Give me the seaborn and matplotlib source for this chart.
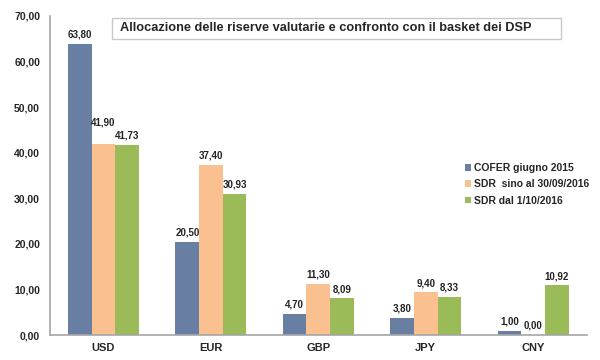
import pandas as pd
import matplotlib
matplotlib.use("Agg")
import matplotlib.pyplot as plt
import matplotlib.patches as mpatches
import seaborn as sns

# dati
valute = ["USD", "EUR", "GBP", "JPY", "CNY"]
serie = ["COFER giugno 2015", "SDR  sino al 30/09/2016", "SDR dal 1/10/2016"]
cofer = [63.80, 20.50, 4.70, 3.80, 1.00]
sdr_old = [41.90, 37.40, 11.30, 9.40, 0.00]
sdr_new = [41.73, 30.93, 8.09, 8.33, 10.92]
colori = ["#687FA3", "#FAC090", "#9BBB59"]

df = pd.DataFrame({
    "valuta": valute * 3,
    "serie": [serie[0]] * 5 + [serie[1]] * 5 + [serie[2]] * 5,
    "quota": cofer + sdr_old + sdr_new,
})

sns.set_style("white")
plt.rcParams["font.family"] = ["Liberation Sans", "DejaVu Sans"]
plt.rcParams["font.weight"] = "bold"

fig, ax = plt.subplots(figsize=(6, 3.6), dpi=100)
fig.subplots_adjust(left=0.083, right=0.978, top=0.956, bottom=0.069)

sns.barplot(data=df, x="valuta", y="quota", hue="serie", palette=colori,
            width=0.66, saturation=1, linewidth=0, ax=ax, legend=True)

etichette = []
for cont in ax.containers:
    etichette.append(ax.bar_label(cont, labels=[f"{v:.2f}".replace(".", ",") for v in cont.datavalues],
                                  padding=3, fontsize=7, fontweight="bold", color="#222222"))
# in origine l'etichetta 41,90 e' spostata piu' in alto
etichette[1][0].xyann = (0, 12)

ax.set_ylim(0, 70)
ax.set_xlim(-0.5, 4.5)
ax.set_yticks(range(0, 71, 10))
ax.set_yticklabels([f"{v:.2f}".replace(".", ",") for v in range(0, 71, 10)],
                   fontsize=7.5, fontweight="bold")
ax.set_xticks(range(5))
ax.set_xticklabels(valute, fontsize=8, fontweight="bold")
ax.set_xlabel("")
ax.set_ylabel("")

for s in ["top", "right"]:
    ax.spines[s].set_visible(False)
for s in ["left", "bottom"]:
    ax.spines[s].set_color("#a6a6a6")
    ax.spines[s].set_linewidth(1.2)

# tacche sull'asse x tra le categorie
ax.set_xticks([i + 0.5 for i in range(-1, 5)], minor=True)
ax.tick_params(axis="x", which="major", length=0, pad=6)
ax.tick_params(axis="x", which="minor", length=4, color="#a6a6a6", direction="out")
ax.tick_params(axis="y", length=4, color="#a6a6a6", direction="out", pad=3)

leg = ax.legend(loc="upper left", bbox_to_anchor=(0.755, 0.568), frameon=False,
                fontsize=7.5, handlelength=0.6, handleheight=0.6,
                handletextpad=0.3, labelspacing=0.6)
for t in leg.get_texts():
    t.set_fontweight("bold")

# riquadro del titolo
fig.patches.append(mpatches.Rectangle((0.187, 0.892), 0.748, 0.058, transform=fig.transFigure,
                                      facecolor="white", edgecolor="#c8c8c8", lw=1, zorder=5))
fig.text(0.2, 0.921, "Allocazione delle riserve valutarie e confronto con il basket dei DSP",
         fontsize=9.15, fontweight="bold", va="center", ha="left", zorder=6)

fig.savefig("out.png", dpi=100)
